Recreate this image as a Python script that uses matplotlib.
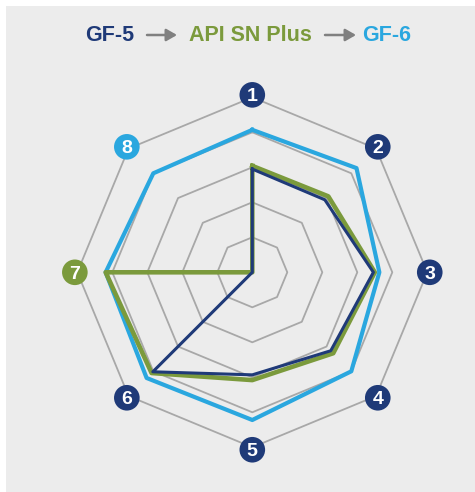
import numpy as np
import matplotlib
matplotlib.use("Agg")
import matplotlib.pyplot as plt
from matplotlib.patches import Rectangle, FancyArrowPatch

# ---- data ----
axes_labels = ["1", "2", "3", "4", "5", "6", "7", "8"]
gf5 = [2.95, 2.93, 3.46, 3.17, 2.93, 4.02, 0.0, 0.0]
api_sn_plus = [3.04, 3.07, 3.50, 3.27, 3.08, 4.07, 4.19, 0.0]
gf6 = [4.07, 4.21, 3.63, 4.00, 4.22, 4.27, 4.19, 4.00]
rings = [1, 2, 3, 4, 5]
label_colors = ["navy", "navy", "navy", "navy", "navy", "navy", "green", "blue"]

NAVY = "#1f3a78"
GREEN = "#7b9a3c"
BLUE = "#2aa7df"
GRID = "#a8a8a8"
cmap = {"navy": NAVY, "green": GREEN, "blue": BLUE}

W, H = 475, 492
fig = plt.figure(figsize=(W / 100, H / 100), dpi=100, facecolor="white")
bg = Rectangle((6 / W, 0), 1 - 6 / W, (H - 6) / H,
               transform=fig.transFigure, facecolor="#ececec",
               edgecolor="none", zorder=-10)
fig.patches.append(bg)

cx, cy, R = 252.3, 272.3, 175.0
ax = fig.add_axes([(cx - R) / W, (H - cy - R) / H, 2 * R / W, 2 * R / H],
                  projection="polar")
ax.set_zorder(1)
ax.set_theta_offset(np.pi / 2)
ax.set_theta_direction(-1)
ax.set_ylim(0, 5)
ax.patch.set_visible(False)
ax.grid(False)
ax.set_xticks([])
ax.set_yticks([])
ax.spines["polar"].set_visible(False)

n = len(axes_labels)
theta = np.arange(n) * 2 * np.pi / n
theta_c = np.append(theta, theta[0])

for r in rings:
    ax.plot(theta_c, [r] * (n + 1), color=GRID, lw=1.3, zorder=1, clip_on=False)

def closed(v):
    return list(v) + [v[0]]

ax.plot(theta_c, closed(gf6), color=BLUE, lw=3.0, zorder=3, clip_on=False)
ax.plot(theta_c, closed(api_sn_plus), color=GREEN, lw=3.3, zorder=4, clip_on=False)
ax.plot(theta_c, closed(gf5), color=NAVY, lw=2.2, zorder=5, clip_on=False)

for t, lab, c in zip(theta, axes_labels, label_colors):
    ax.scatter([t], [5.07], s=340, color=cmap[c], zorder=6, clip_on=False,
               edgecolors="none")
    ax.text(t, 5.07, lab, color="white", fontsize=14, fontweight="bold",
            family="Liberation Sans", ha="center", va="center_baseline",
            zorder=7, clip_on=False)

# ---- title ----
ty = (H - 41) / H
fs = 15.5
fig.text(85 / W, ty, "GF-5", color=NAVY, fontsize=fs, fontweight="bold",
         family="Liberation Sans", va="baseline", ha="left")
fig.text(189 / W, ty, "API SN Plus", color=GREEN, fontsize=fs, fontweight="bold",
         family="Liberation Sans", va="baseline", ha="left")
fig.text(362 / W, ty, "GF-6", color=BLUE, fontsize=fs, fontweight="bold",
         family="Liberation Sans", va="baseline", ha="left")
ay = (H - 35) / H
for x0, x1 in [(147, 177), (325, 356)]:
    fig.add_artist(FancyArrowPatch(
        (x0 / W, ay), (x1 / W, ay), transform=fig.transFigure,
        arrowstyle="-|>,head_length=4.5,head_width=2.6", color="#808080",
        lw=1.8, mutation_scale=1.4, shrinkA=0, shrinkB=0))

fig.savefig("out.png", dpi=100, facecolor="white")
